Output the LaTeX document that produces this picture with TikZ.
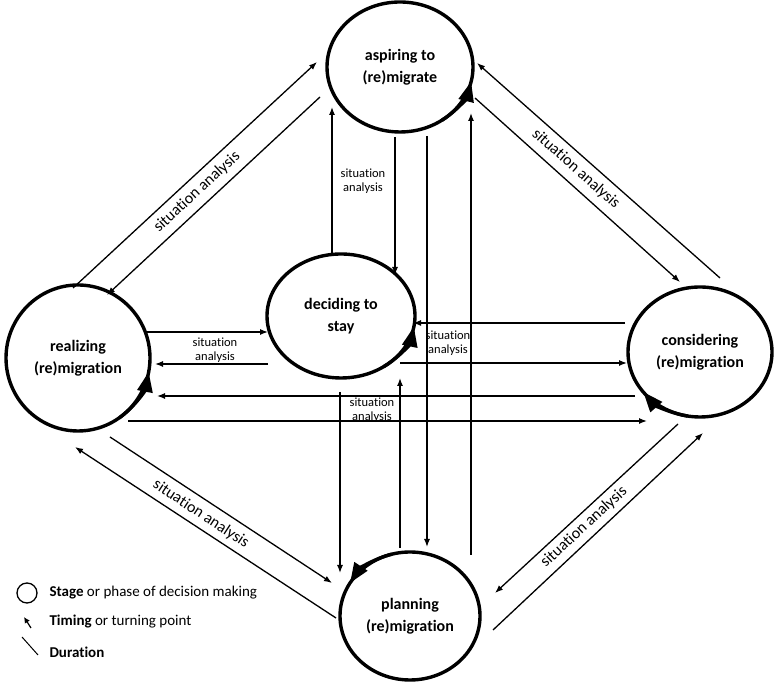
\documentclass[tikz,border=0pt]{standalone}
\usepackage{fontspec}
\setmainfont{Carlito}[Ligatures={NoCommon}]
\usetikzlibrary{arrows.meta,shapes.geometric,calc}

\begin{document}
\begin{tikzpicture}[x=1pt,y=1pt,
    stage/.style={ellipse,draw,line width=3.4pt,inner sep=0pt,outer sep=0pt,
      align=center,font=\fontsize{16}{22}\selectfont\bfseries},
    flow/.style={line width=1.3pt,-{Latex[length=8pt,width=6pt]}},
    turn/.style={line width=3.4pt,-{Triangle[length=20pt,width=15pt]}},
    sa/.style={font=\fontsize{16}{18}\selectfont,inner sep=0pt},
    small/.style={font=\fontsize{12.5}{14}\selectfont,align=center,inner sep=0pt},
    legend/.style={anchor=west,font=\fontsize{15}{17}\selectfont}]
  \useasboundingbox (0,0) rectangle (776,684);

  % stages
  \node[stage,minimum width=146pt,minimum height=130pt] (asp) at (400,617) {aspiring to\\(re)migrate};
  \node[stage,minimum width=148pt,minimum height=124pt] (dec) at (341,368) {deciding to\\stay};
  \node[stage,minimum width=144pt,minimum height=146pt] (real) at (78,326) {realizing\\(re)migration};
  \node[stage,minimum width=144pt,minimum height=130pt] (cons) at (700,332) {considering\\(re)migration};
  \node[stage,minimum width=140pt,minimum height=128pt] (plan) at (410,68) {planning\\(re)migration};

  % turning points
  \draw[turn] ($(asp)+(-55:73pt and 65pt)$) arc[start angle=-55,end angle=-13,x radius=73pt,y radius=65pt];
  \draw[turn] ($(dec)+(-55:74pt and 62pt)$) arc[start angle=-55,end angle=-10,x radius=74pt,y radius=62pt];
  \draw[turn] ($(real)+(-55:72pt and 73pt)$) arc[start angle=-55,end angle=-11,x radius=72pt,y radius=73pt];
  \draw[turn] ($(cons)+(260:72pt and 65pt)$) arc[start angle=260,end angle=218,x radius=72pt,y radius=65pt];
  \draw[turn] ($(plan)+(105:70pt and 64pt)$) arc[start angle=105,end angle=149,x radius=70pt,y radius=64pt];

  % diagonal flows
  \draw[flow] ([shift={(-5,-3)}]real.north) -- ([shift={(-10,5)}]asp.west);
  \draw[flow] ([shift={(-7,-30)}]asp.west) -- ([shift={(29,-10)}]real.north);
  \draw[flow] ([shift={(20,9)}]cons.north) -- ([shift={(4,4)}]asp.east);
  \draw[flow] ([shift={(2,-31)}]asp.east) -- ([shift={(-20,5)}]cons.north);
  \draw[flow] ([shift={(32,-6)}]real.south) -- ([shift={(-8,33)}]plan.west);
  \draw[flow] ([shift={(-4,-2)}]plan.west) -- ([shift={(-3,-16)}]real.south);
  \draw[flow] ([shift={(-22,-7)}]cons.south) -- ([shift={(15,23)}]plan.east);
  \draw[flow] ([shift={(13,-14)}]plan.east) -- ([shift={(3,-16)}]cons.south);

  % vertical flows
  \draw[flow] ([xshift=-9]dec.north) -- ([shift={(-68,25)}]asp.south);
  \draw[flow] ([shift={(-5,-5)}]asp.south) -- ([shift={(54,-21)}]dec.north);
  \draw[flow] ([shift={(27,-4)}]asp.south) -- ([shift={(17,5)}]plan.north);
  \draw[flow] ([shift={(61,-3)}]plan.north) -- ([shift={(71,19)}]asp.south);
  \draw[flow] ([shift={(-1,-14)}]dec.south) -- ([yshift=43]plan.west);
  \draw[flow] ([shift={(-10,4)}]plan.north) -- ([xshift=59]dec.south);

  % horizontal flows
  \draw[flow] ([shift={(-3,26)}]real.east) -- ([shift={(1,-16)}]dec.west);
  \draw[flow] ([shift={(1,-48)}]dec.west) -- ([shift={(5,-6)}]real.east);
  \draw[flow] ([shift={(-3,29)}]cons.west) -- ([shift={(-2,-7)}]dec.east);
  \draw[flow] ([shift={(-15,-47)}]dec.east) -- ([shift={(-1,-11)}]cons.west);
  \draw[flow] ([shift={(7,-44)}]cons.west) -- ([shift={(7,-38)}]real.east);
  \draw[flow] ([shift={(-22,-63)}]real.east) -- ([shift={(19,-69)}]cons.west);

  % labels
  \node[sa,rotate=42.8] (saTL) at (197,492) {situation analysis};
  \node[sa,rotate=-41.5] (saTR) at (576,515) {situation analysis};
  \node[sa,rotate=-33.3] (saBL) at (201,170) {situation analysis};
  \node[sa,rotate=42.7] (saBR) at (584,157) {situation analysis};
  \node[small] (saV) at (363,503) {situation\\analysis};
  \node[small] (saL) at (215,334) {situation\\analysis};
  \node[small] (saR) at (448,341) {situation\\analysis};
  \node[small] (saM) at (372,274) {situation\\analysis};

  % legend
  \node[circle,draw,line width=1.3pt,minimum size=20pt,inner sep=0pt] (keyStage) at (27,91) {};
  \node[legend] (txtStage) at (46,91) {\textbf{Stage} or phase of decision making};
  \draw[line width=1.2pt,-{Latex[length=6pt,width=6pt]}] (31,56) -- (24,67);
  \node[legend] (txtTiming) at (46,62) {\textbf{Timing} or turning point};
  \draw[line width=1pt] (22,47) -- (38,29);
  \node[legend] (txtDur) at (46,32) {\textbf{Duration}};
\end{tikzpicture}
\end{document}
